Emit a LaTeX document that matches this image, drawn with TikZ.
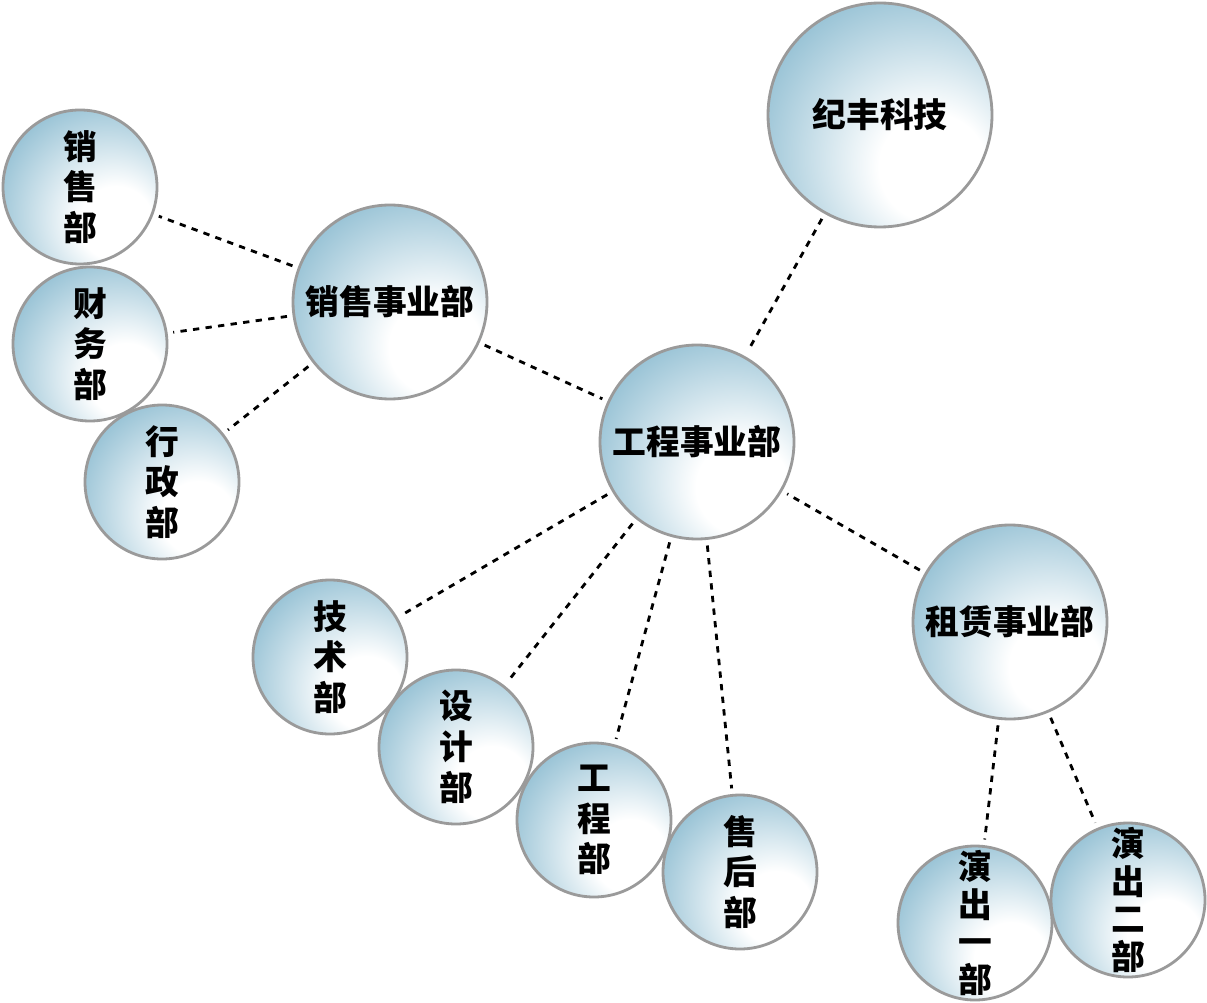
\documentclass[tikz,border=0pt]{standalone}
\usepackage{fontspec}
\setmainfont{Noto Sans CJK SC}
\definecolor{bubblue}{HTML}{86B8CE}
\definecolor{rimgray}{HTML}{9A9A9A}
\pgfdeclareradialshading{bub}{\pgfpoint{14bp}{-14bp}}{color(0bp)=(white); color(12bp)=(white); color(40bp)=(bubblue); color(58bp)=(bubblue!85!white); color(75bp)=(bubblue!65!white)}
\begin{document}
\begin{tikzpicture}[x=0.025cm,y=-0.025cm,
  bubble/.style={circle,draw=rimgray,line width=2pt,shading=bub,inner sep=0pt,align=center,font=\bfseries\fontsize{24}{29}\selectfont},
  big/.style={bubble,minimum size=194*0.025cm},
  small/.style={bubble,minimum size=154*0.025cm},
  link/.style={line width=2pt,dash pattern=on 4.5pt off 4.5pt,shorten <=4pt,shorten >=4pt}]
\useasboundingbox (0,0) rectangle (1207,1003);
\node[bubble,minimum size=224*0.025cm] (jf) at (880,115) {纪丰科技};
\node[big] (xs) at (390,302) {销售事业部};
\node[big] (gc) at (697,442) {工程事业部};
\node[big] (zl) at (1010,622) {租赁事业部};
\node[small] (a1) at (80,187) {销\\售\\部};
\node[small] (a2) at (90,344) {财\\务\\部};
\node[small] (a3) at (162,482) {行\\政\\部};
\node[small] (b1) at (330,657) {技\\术\\部};
\node[small] (b2) at (456,747) {设\\计\\部};
\node[small] (b3) at (594,820) {工\\程\\部};
\node[small] (b4) at (740,872) {售\\后\\部};
\node[small,font=\bfseries\fontsize{24}{27}\selectfont] (c1) at (975,923) {演\\出\\一\\部};
\node[small,font=\bfseries\fontsize{24}{27}\selectfont] (c2) at (1128,900) {演\\出\\二\\部};
\draw[link] (jf) -- (gc);
\draw[link] (xs) -- (gc);
\draw[link] (zl) -- (gc);
\foreach \n in {a1,a2,a3} \draw[link] (xs) -- (\n);
\foreach \n in {b1,b2,b3,b4} \draw[link] (gc) -- (\n);
\foreach \n in {c1,c2} \draw[link] (zl) -- (\n);
\end{tikzpicture}
\end{document}
